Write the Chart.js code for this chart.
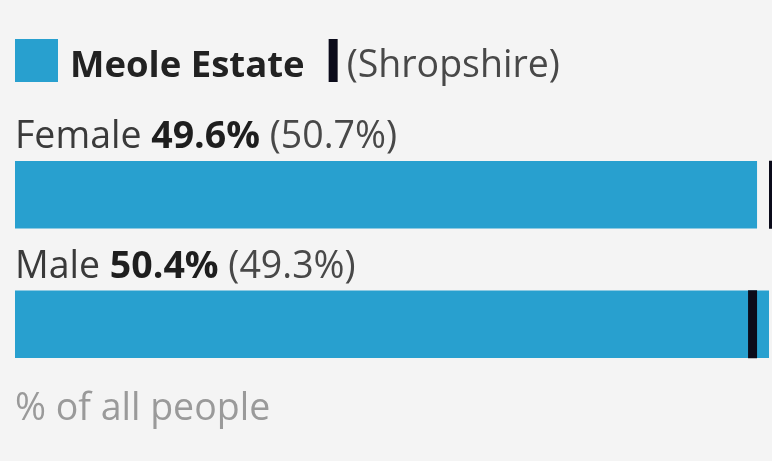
<!DOCTYPE html>
<html>
<head>
<meta charset="utf-8">
<script src="https://cdn.jsdelivr.net/npm/chart.js@4.4.0/dist/chart.umd.min.js"></script>
<style>
    html, body { margin: 0; padding: 0; background: #f4f4f4; overflow: hidden; }
    #wrap { position: relative; width: 772px; height: 461px; }
</style>
</head>
<body>
<div id="wrap"><canvas id="myChart"></canvas></div>
<script>
// dados do gráfico
var categorias = ['Female', 'Male'];
var valoresArea = [49.6, 50.4];
var valoresComparacao = [50.7, 49.3];
var nomeArea = 'Meole Estate';
var nomeComparacao = 'Shropshire';
var notaEixo = '% of all people';

var azul = '#28a0cf';
var preto = '#0b0b1a';
var fonte = '"Open Sans", "Noto Sans", sans-serif';
var tam = '37.5px ';

// legenda + rótulos desenhados à mão
var rotulosPlugin = {
    id: 'rotulos',
    afterDraw: function (chart) {
        var ctx = chart.ctx;
        ctx.save();
        ctx.textBaseline = 'alphabetic';

        // legenda
        ctx.fillStyle = azul;
        ctx.fillRect(15, 39, 43, 43);
        ctx.font = 'bold 36.5px ' + fonte;
        ctx.fillStyle = '#222';
        ctx.fillText(nomeArea, 70, 77);
        var x = 70 + ctx.measureText(nomeArea).width + 24;
        ctx.fillStyle = preto;
        ctx.fillRect(x, 39, 9, 43);
        ctx.font = tam + fonte;
        ctx.fillStyle = '#484848';
        ctx.fillText('(' + nomeComparacao + ')', x + 18, 77);

        // rótulos acima das barras
        var meta = chart.getDatasetMeta(0);
        meta.data.forEach(function (bar, i) {
            var y = bar.y - bar.height / 2 - 13;
            var lx = chart.chartArea.left;
            ctx.font = tam + fonte;
            ctx.fillStyle = '#3a3a3a';
            var t1 = categorias[i] + ' ';
            ctx.fillText(t1, lx, y);
            lx += ctx.measureText(t1).width;
            ctx.font = 'bold ' + tam + fonte;
            ctx.fillStyle = '#1e1e1e';
            var t2 = valoresArea[i].toFixed(1) + '%';
            ctx.fillText(t2, lx, y);
            lx += ctx.measureText(t2).width;
            ctx.font = tam + fonte;
            ctx.fillStyle = '#484848';
            ctx.fillText(' (' + valoresComparacao[i].toFixed(1) + '%)', lx, y);
        });

        // nota do eixo
        ctx.font = tam + fonte;
        ctx.fillStyle = '#9a9a9a';
        ctx.fillText(notaEixo, 15, 420);
        ctx.restore();
    }
};

document.addEventListener('DOMContentLoaded', function () {
    var ctx = document.getElementById('myChart').getContext('2d');
    var myChart = new Chart(ctx, {
        type: 'bar',
        data: {
            labels: categorias,
            datasets: [{
                label: nomeArea,
                data: valoresArea,
                backgroundColor: azul,
                borderWidth: 0,
                indexAxis: 'y',
                barPercentage: 0.52,
                categoryPercentage: 1,
                order: 2
            }, {
                type: 'line',
                label: nomeComparacao,
                data: valoresComparacao,
                indexAxis: 'y',
                showLine: false,
                pointStyle: 'line',
                pointRotation: 90,
                pointRadius: 34,
                pointHoverRadius: 34,
                pointBorderWidth: 9,
                pointHoverBorderWidth: 9,
                pointBorderColor: preto,
                pointBackgroundColor: preto,
                clip: false,
                order: 1
            }]
        },
        options: {
            indexAxis: 'y',
            responsive: true,
            maintainAspectRatio: false,
            animation: false,
            layout: {
                autoPadding: false,
                padding: { left: 15, right: 0, top: 130, bottom: 72 }
            },
            scales: {
                x: { display: false, min: 0, max: 50.6 },
                y: { display: false }
            },
            plugins: {
                legend: { display: false },
                tooltip: { enabled: false }
            }
        },
        plugins: [rotulosPlugin]
    });
});
</script>
</body>
</html>
